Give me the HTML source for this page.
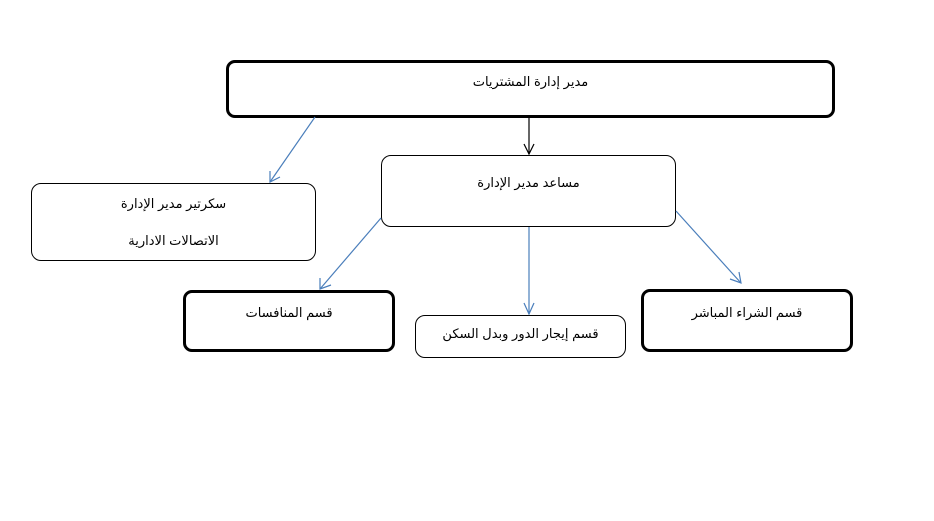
<!DOCTYPE html>
<html><head><meta charset="utf-8"><style>
html,body{margin:0;padding:0;background:#fff;width:934px;height:521px;overflow:hidden;position:relative;font-family:"Liberation Sans","DejaVu Sans",sans-serif;}
.b{position:absolute;box-sizing:border-box;background:#fff;color:#000;font-size:13px;text-align:center;direction:rtl;}
.t{border:3px solid #000;border-radius:9px;}
.n{border:1px solid #000;border-radius:10px;}
.l{position:absolute;left:0;right:0;}
svg{position:absolute;left:0;top:0;}
</style></head><body>
<div class="b t" style="left:226px;top:60px;width:609px;height:58px;"><span class="l" style="top:11px;">مدير إدارة المشتريات</span></div>
<div class="b n" style="left:381px;top:155px;width:295px;height:72px;"><span class="l" style="top:19px;">مساعد مدير الإدارة</span></div>
<div class="b n" style="left:31px;top:183px;width:285px;height:78px;"><span class="l" style="top:12px;">سكرتير مدير الإدارة</span><span class="l" style="top:49px;">الاتصالات الادارية</span></div>
<div class="b t" style="left:183px;top:290px;width:212px;height:62px;"><span class="l" style="top:12px;">قسم المنافسات</span></div>
<div class="b n" style="left:415px;top:315px;width:211px;height:43px;"><span class="l" style="top:10px;">قسم إيجار الدور وبدل السكن</span></div>
<div class="b t" style="left:641px;top:289px;width:212px;height:63px;"><span class="l" style="top:13px;">قسم الشراء المباشر</span></div>
<svg width="934" height="521" fill="none">
<g stroke="#000" stroke-width="1.2"><line x1="529" y1="118" x2="529" y2="154"/><polyline points="524,144 529,154 534,144"/></g>
<g stroke="#4a7ebb" stroke-width="1.2">
<line x1="315" y1="117" x2="270" y2="182"/><polyline points="270,171 270,182 280,177"/>
<line x1="381" y1="218" x2="320" y2="289"/><polyline points="320,278 320,289 331,285"/>
<line x1="529" y1="227" x2="529" y2="314"/><polyline points="524,303 529,314 534,303"/>
<line x1="676" y1="211" x2="741" y2="283"/><polyline points="730,279 741,283 739,272"/>
</g></svg>
</body></html>
